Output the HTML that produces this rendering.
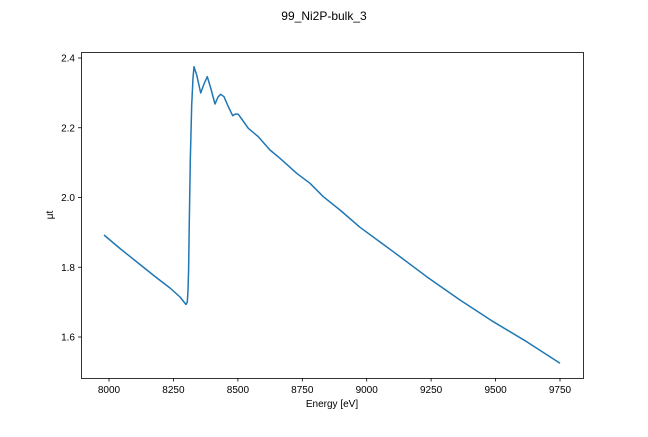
<!DOCTYPE html>
<html><head><style>body{margin:0;background:#fff;}svg{font-family:"Liberation Sans",sans-serif;}</style></head><body>
<svg width="648" height="432" xmlns="http://www.w3.org/2000/svg">
<rect width="648" height="432" fill="#fff"/>
<text x="324" y="20" font-size="12" text-anchor="middle">99_Ni2P-bulk_3</text>
<polyline fill="none" stroke="#1f77b4" stroke-width="1.5" stroke-linejoin="round" points="104,235 120,248.5 140,264.5 155,276.5 170,288 180,297 184,302 186,304.5 187.3,302 188,290 188.6,270 189.3,222 190.3,160 191.7,105 193,78 194,66.7 196.7,75 200.7,93 204,84 207.3,76.7 210.7,88 215,104 218,97 220.7,94.3 224,96.7 228,106 232.7,115.7 235.5,114 238.3,114.3 241.7,119 248.3,128.3 258.3,136.7 270,150 280,158.3 296.7,173.3 310,183.3 323.3,196.7 340,210 360,227.3 393.3,251.7 426.7,276.7 460,300 493.3,321.7 526.7,341.7 560,363.3"/>
<rect x="81.5" y="52.5" width="502" height="326" fill="none" stroke="#000" stroke-width="0.8"/>
<g font-size="10" text-anchor="middle" stroke="#000" stroke-width="0.8">
<line x1="109" y1="378" x2="109" y2="381.5"/><line x1="173.4" y1="378" x2="173.4" y2="381.5"/><line x1="237.9" y1="378" x2="237.9" y2="381.5"/><line x1="302.3" y1="378" x2="302.3" y2="381.5"/><line x1="366.7" y1="378" x2="366.7" y2="381.5"/><line x1="431.1" y1="378" x2="431.1" y2="381.5"/><line x1="495.6" y1="378" x2="495.6" y2="381.5"/><line x1="560" y1="378" x2="560" y2="381.5"/>
<line x1="78" y1="58" x2="81.5" y2="58"/><line x1="78" y1="127.75" x2="81.5" y2="127.75"/><line x1="78" y1="197.5" x2="81.5" y2="197.5"/><line x1="78" y1="267.25" x2="81.5" y2="267.25"/><line x1="78" y1="337" x2="81.5" y2="337"/>
</g>
<g font-size="10" text-anchor="middle">
<text x="109" y="393">8000</text><text x="173.4" y="393">8250</text><text x="237.9" y="393">8500</text><text x="302.3" y="393">8750</text><text x="366.7" y="393">9000</text><text x="431.1" y="393">9250</text><text x="495.6" y="393">9500</text><text x="560" y="393">9750</text>
<text x="332" y="407">Energy [eV]</text>
</g>
<g font-size="10" text-anchor="end">
<text x="75" y="61.5">2.4</text><text x="75" y="131.25">2.2</text><text x="75" y="201">2.0</text><text x="75" y="270.75">1.8</text><text x="75" y="340.5">1.6</text>
</g>
<text x="53" y="215" font-size="10" text-anchor="middle" transform="rotate(-90 53 215)">μt</text>
</svg>
</body></html>
